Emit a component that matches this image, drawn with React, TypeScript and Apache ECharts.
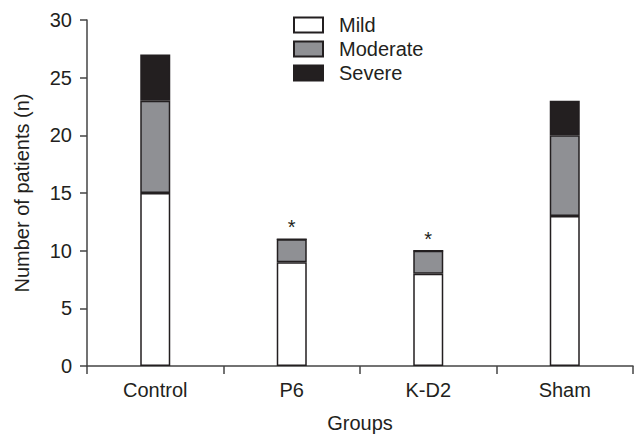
import React, { useEffect, useRef } from "react";
import * as echarts from "echarts";

const categories = ["Control", "P6", "K-D2", "Sham"];
const mild = [15, 9, 8, 13];
const moderate = [8, 2, 2, 7];
const severe = [4, 0, 0, 3];
const significance = ["", "*", "*", ""];
const yTicks = [0, 5, 10, 15, 20, 25, 30];

const FONT = "Liberation Sans, Arial, Helvetica, sans-serif";
const INK = "#231f20";
const FS = 20;

export default function App() {
  const ref = useRef<HTMLDivElement>(null);
  useEffect(() => {
    if (!ref.current) return;
    const chart = echarts.init(ref.current, undefined, { renderer: "svg" });
    const barBase = {
      type: "bar" as const,
      stack: "total",
      barWidth: 30,
    };
    chart.setOption({
      animation: false,
      textStyle: { fontFamily: FONT },
      grid: { left: 87, right: 3, top: 20, bottom: 67 },
      legend: {
        orient: "vertical",
        left: 293,
        top: 15,
        padding: 0,
        itemWidth: 29,
        itemHeight: 15,
        itemGap: 4,
        icon: "rect",
        textStyle: { fontSize: FS, color: INK, fontFamily: FONT, padding: [0, 0, 0, 11] },
        data: ["Mild", "Moderate", "Severe"],
      },
      xAxis: {
        type: "category",
        data: categories,
        name: "Groups",
        nameLocation: "middle",
        nameGap: 47,
        nameTextStyle: { fontSize: FS, color: INK, fontFamily: FONT },
        axisLine: { lineStyle: { color: "#444", width: 1.5 } },
        axisTick: { show: true, length: 8, inside: false, lineStyle: { color: "#444", width: 1.5 } },
        axisLabel: { fontSize: FS, color: INK, margin: 14, fontFamily: FONT },
      },
      yAxis: {
        type: "value",
        min: 0,
        max: 30,
        interval: 5,
        name: "Number of patients (n)",
        nameLocation: "middle",
        nameGap: 55,
        nameTextStyle: { fontSize: FS, color: INK, fontFamily: FONT },
        splitLine: { show: false },
        axisLine: { show: true, lineStyle: { color: "#444", width: 1.5 } },
        axisTick: { show: true, length: 7, lineStyle: { color: "#444", width: 1.5 } },
        axisLabel: {
          fontSize: FS,
          color: INK,
          margin: 15,
          fontFamily: FONT,
          formatter: (v: number) => (yTicks.includes(v) ? String(v) : ""),
        },
      },
      series: [
        {
          ...barBase,
          name: "Mild",
          data: mild,
          itemStyle: { color: "#ffffff", borderColor: INK, borderWidth: 1.5 },
        },
        {
          ...barBase,
          name: "Moderate",
          data: moderate,
          itemStyle: { color: "#8f9094", borderColor: INK, borderWidth: 1.5 },
          label: {
            show: true,
            position: "top",
            distance: 2,
            fontSize: 20,
            color: INK,
            fontFamily: FONT,
            formatter: (p: any) => significance[p.dataIndex],
          },
        },
        {
          ...barBase,
          name: "Severe",
          data: severe,
          itemStyle: { color: INK, borderColor: INK, borderWidth: 1.5 },
        },
      ],
    });
    return () => chart.dispose();
  }, []);
  return <div ref={ref} style={{ width: 636, height: 438, position: "absolute", left: 0, top: 0, background: "#fff" }} />;
}
